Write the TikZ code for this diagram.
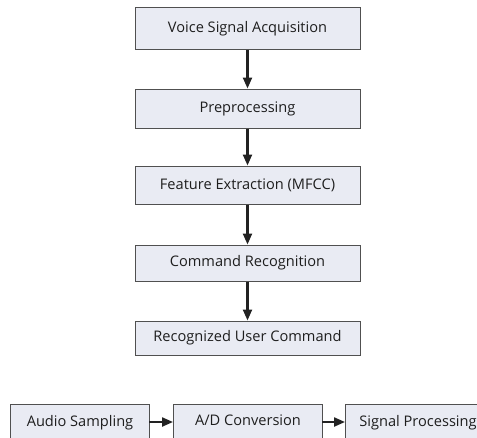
\documentclass[tikz,border=0pt]{standalone}
\usepackage{fontspec}
\setmainfont{Open Sans}
\usetikzlibrary{arrows.meta}
\definecolor{boxfill}{HTML}{E9EBF3}
\definecolor{boxline}{HTML}{505050}
\definecolor{txt}{HTML}{1E1E1E}
\definecolor{arr}{HTML}{222222}
\tikzset{
  flowbox/.style={draw=boxline, line width=1pt, fill=boxfill, text=txt, inner sep=0pt, font=\fontsize{14.6}{17}\selectfont},
  flowarrow/.style={draw=arr, line width=2.2pt, -{Triangle[length=11pt,width=9pt]}}
}
\begin{document}
\begin{tikzpicture}[x=1pt,y=-1pt]
\useasboundingbox (0,0) rectangle (477,437);
\fill[white] (0,0) rectangle (477,437);
\node[flowbox, minimum width=225pt, minimum height=42pt] (v) at (247.5,28.5) {Voice Signal Acquisition};
\node[flowbox, minimum width=225pt, minimum height=39pt] (p) at (247.5,108.5) {Preprocessing};
\node[flowbox, minimum width=225pt, minimum height=38pt] (f) at (247.5,185) {Feature Extraction (MFCC)};
\node[flowbox, minimum width=225pt, minimum height=36pt] (c) at (247.5,263) {Command Recognition};
\node[flowbox, minimum width=225pt, minimum height=34pt] (r) at (247.5,338) {Recognized User Command};
\draw[flowarrow] (v) -- (p);
\draw[flowarrow] (p) -- (f);
\draw[flowarrow] (f) -- (c);
\draw[flowarrow] (c) -- (r);
\begin{scope}
\clip (0,0) rectangle (477,437);
\node[flowbox, minimum width=139pt, minimum height=38pt, anchor=north west, text depth=6pt] (a) at (10,404) {Audio Sampling};
\node[flowbox, minimum width=149pt, minimum height=38pt, anchor=north west, text depth=6pt] (d) at (173,404) {A/D Conversion};
\node[flowbox, minimum width=145pt, minimum height=38pt, anchor=north west, text depth=6pt] (s) at (345,404) {Signal Processing};
\end{scope}
\coordinate (a1) at (149,422);
\coordinate (d0) at (173,422);
\coordinate (d1) at (322,422);
\coordinate (s0) at (345,422);
\draw[flowarrow] (a1) -- (d0);
\draw[flowarrow] (d1) -- (s0);
\end{tikzpicture}
\end{document}
